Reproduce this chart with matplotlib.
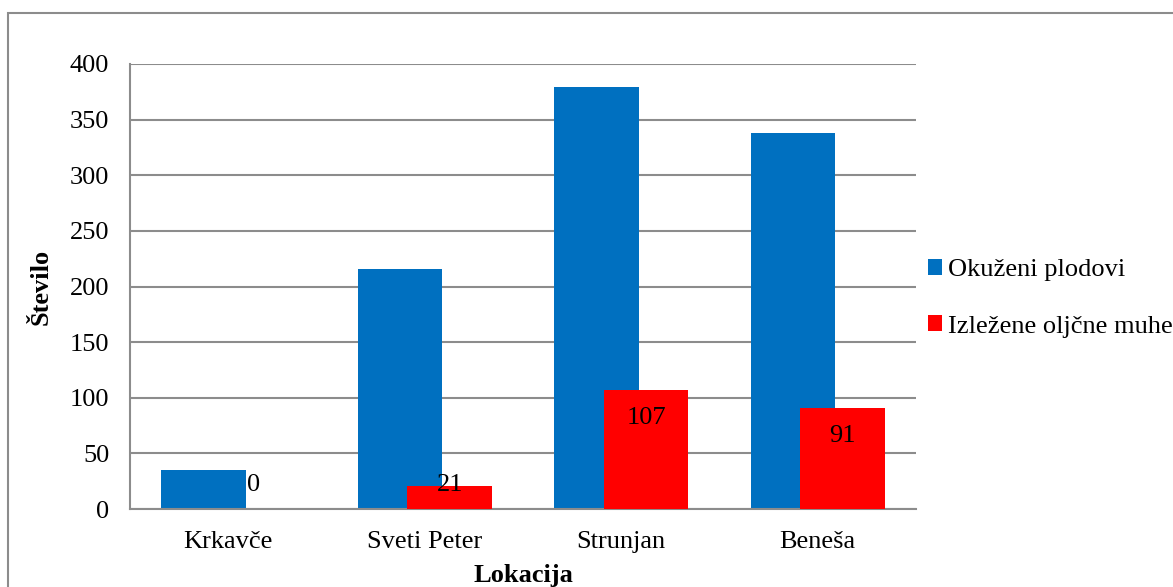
import matplotlib
matplotlib.use("Agg")
import matplotlib.pyplot as plt
from matplotlib.patches import Rectangle

lokacije = ["Krkavče", "Sveti Peter", "Strunjan", "Beneša"]
okuzeni = [35, 216, 379, 338]
izlezene = [0, 21, 107, 91]

plt.rcParams['font.family'] = ['Liberation Serif', 'DejaVu Serif']

fig = plt.figure(figsize=(11.73, 5.87), dpi=100)
ax = fig.add_axes([130 / 1173, 78 / 587, 786 / 1173, 445 / 587])

# okvir okoli grafa
fig.patches.append(Rectangle((8 / 1173, -0.1), 1.2, (587 - 13) / 587 + 0.1,
                             transform=fig.transFigure, fill=False,
                             edgecolor='#8c8c8c', linewidth=1.5))

x = list(range(len(lokacije)))
sirina = 0.43
zamik = 0.127
ax.bar([i - zamik for i in x], okuzeni, sirina, color='#0070C0',
       label='Okuženi plodovi', zorder=2)
ax.bar([i + zamik for i in x], izlezene, sirina, color='#FF0000',
       label='Izležene oljčne muhe', zorder=3)

for i, v in zip(x, izlezene):
    ax.text(i + zamik, max(v - 25, 22), str(v), ha='center', va='center',
            fontsize=19, zorder=4)

ax.set_xlim(-0.5, 3.5)
ax.set_ylim(0, 400)
ax.set_yticks(range(0, 401, 50))
ax.set_xticks(x)
ax.set_xticklabels(lokacije)
ax.tick_params(axis='both', length=0, labelsize=19)
ax.tick_params(axis='y', pad=15)
ax.tick_params(axis='x', pad=16)
ax.yaxis.grid(True, color='#8c8c8c', linewidth=1.5, zorder=0)
ax.set_axisbelow(True)
for s in ['top', 'right']:
    ax.spines[s].set_visible(False)
for s in ['left', 'bottom']:
    ax.spines[s].set_color('#8c8c8c')
    ax.spines[s].set_linewidth(1.5)

ax.set_ylabel('Število', fontsize=19, fontweight='bold', labelpad=12)
ax.set_xlabel('Lokacija', fontsize=19, fontweight='bold', labelpad=8)

ax.legend(loc='center left', bbox_to_anchor=(0.985, 0.474), frameon=False,
          fontsize=19, handlelength=0.55, handleheight=0.55, handletextpad=0.2,
          labelspacing=1.3)

fig.savefig('out.png', dpi=100)
